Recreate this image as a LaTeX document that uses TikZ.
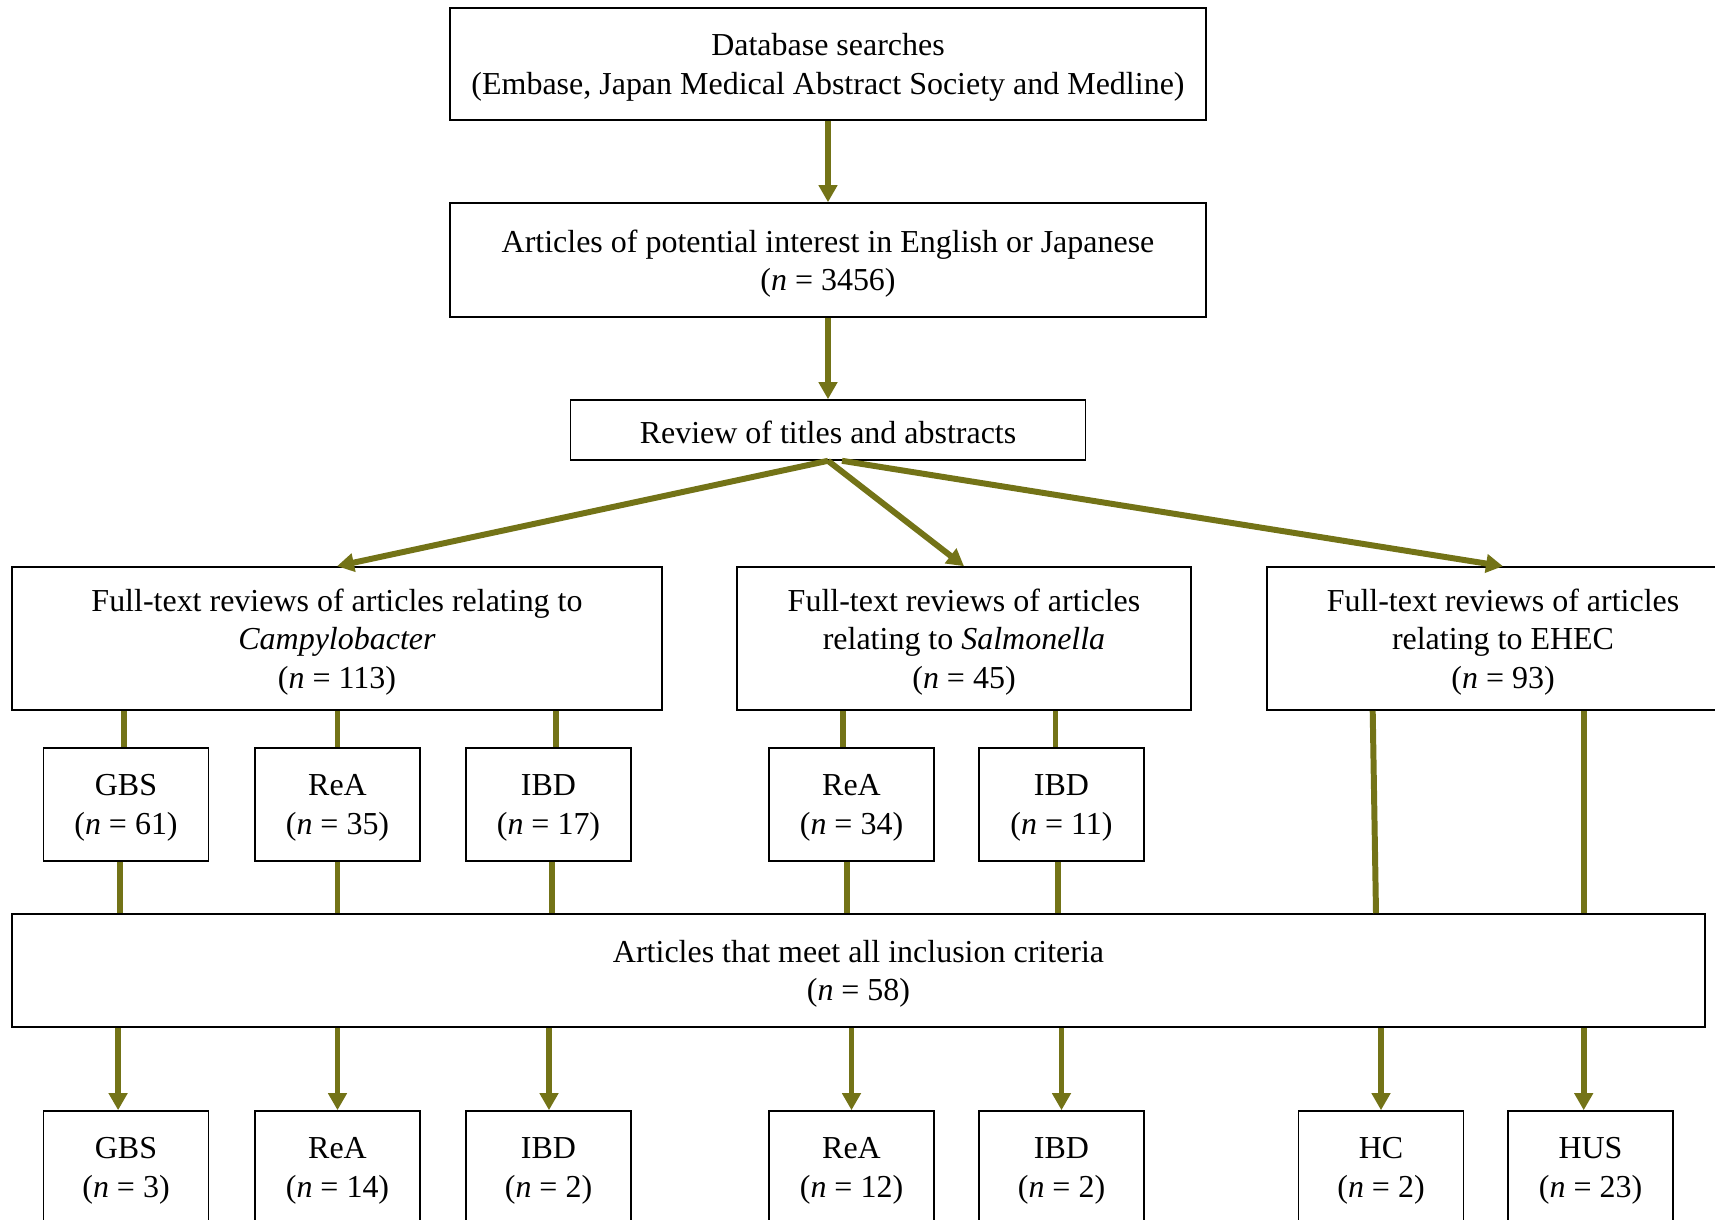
\documentclass[tikz,border=0pt]{standalone}
\usepackage{fontspec}
\setmainfont{Liberation Serif}
\usepackage{tikz}
\usetikzlibrary{arrows.meta, positioning, calc}
\definecolor{olc}{HTML}{737317}

\begin{document}
\begin{tikzpicture}[x=0.02cm, y=-0.02cm,
          box/.style={draw, line width=0.9pt, align=center, inner sep=0pt,
                      text depth=0pt, execute at begin node={\rule{0pt}{15.5pt}},
                      font=\fontsize{18.2}{21.8}\selectfont},
          link/.style={draw=olc, line width=3.4pt},
          arr/.style={link, -{Triangle[length=0.34cm, width=0.36cm]}}]
        \useasboundingbox (0,0) rectangle (1715,1220);
        % top of the chart
        \node[box, minimum width=756*0.02cm, minimum height=112*0.02cm] (db) at (828,64)
          {Database searches\\(Embase, Japan Medical Abstract Society and Medline)};
        \node[box, minimum width=756*0.02cm, minimum height=114*0.02cm] (art) at (828,260)
          {Articles of potential interest in English or Japanese\\(\textit{n} = 3456)};
        \node[box, minimum width=515*0.02cm, minimum height=60*0.02cm] (rev) at (828,430)
          {Review of titles and abstracts};
        \draw[arr] (db) -- (art);
        \draw[arr] (art) -- (rev);
        % full-text reviews
        \node[box, minimum width=650*0.02cm, minimum height=143*0.02cm] (campy) at (337,638.5)
          {Full-text reviews of articles relating to\\\textit{Campylobacter}\\(\textit{n} = 113)};
        \node[box, minimum width=454*0.02cm, minimum height=143*0.02cm] (salm) at (964,638.5)
          {Full-text reviews of articles\\relating to \textit{Salmonella}\\(\textit{n} = 45)};
        \node[box, minimum width=472*0.02cm, minimum height=143*0.02cm] (ehec) at (1503,638.5)
          {Full-text reviews of articles\\relating to EHEC\\(\textit{n} = 93)};
        \draw[arr] (rev.south) -- (campy.north);
        \draw[arr] (rev.south) -- (salm.north);
        \draw[arr] ([xshift=0.28cm]rev.south) -- (ehec.north);
        % diseases found
        \foreach \nm/\x/\lab/\num in {cgbs/126/GBS/61, crea/337.5/ReA/35, cibd/548.5/IBD/17,
                                      srea/851.5/ReA/34, sibd/1061.5/IBD/11}{
          \node[box, minimum width=165*0.02cm, minimum height=113*0.02cm] (\nm) at (\x,804.5)
            {\lab\\(\textit{n} = \num)};
        }
        \node[box, minimum width=1693*0.02cm, minimum height=113*0.02cm] (inc) at (858.5,970.5)
          {Articles that meet all inclusion criteria\\(\textit{n} = 58)};
        \foreach \nm/\src/\ta/\tb in {cgbs/campy/-2.4/-5.7, crea/campy/0/0, cibd/campy/7.1/3.8,
                                      srea/salm/-8.2/-4.9, sibd/salm/-6/-3.8}{
          \draw[link] ([xshift=\ta*0.02cm]\nm.north |- \src.south) -- ([xshift=\ta*0.02cm]\nm.north);
          \draw[link] ([xshift=\tb*0.02cm]\nm.south) -- ([xshift=\tb*0.02cm]\nm.south |- inc.north);
        }
        % articles included
        \foreach \nm/\x/\lab/\num/\d in {rgbs/126/GBS/3/-7.9, rrea/337.5/ReA/14/0, ribd/548.5/IBD/2/0.5,
                                         rsrea/851.5/ReA/12/0, rsibd/1061.5/IBD/2/0,
                                         rhc/1381/HC/2/0, rhus/1590.5/HUS/23/-6.8}{
          \node[box, minimum width=165*0.02cm, minimum height=113*0.02cm] (\nm) at (\x,1167.5)
            {\lab\\(\textit{n} = \num)};
          \draw[arr] ([xshift=\d*0.02cm]inc.south -| \nm) -- ([xshift=\d*0.02cm]\nm.north);
        }
        \draw[link] ([xshift=-8.3*0.02cm]ehec.south -| rhc) -- ([xshift=-5*0.02cm]inc.north -| rhc);
        \draw[link] ([xshift=-6.8*0.02cm]ehec.south -| rhus) -- ([xshift=-6.8*0.02cm]inc.north -| rhus);
      \end{tikzpicture}
\end{document}
